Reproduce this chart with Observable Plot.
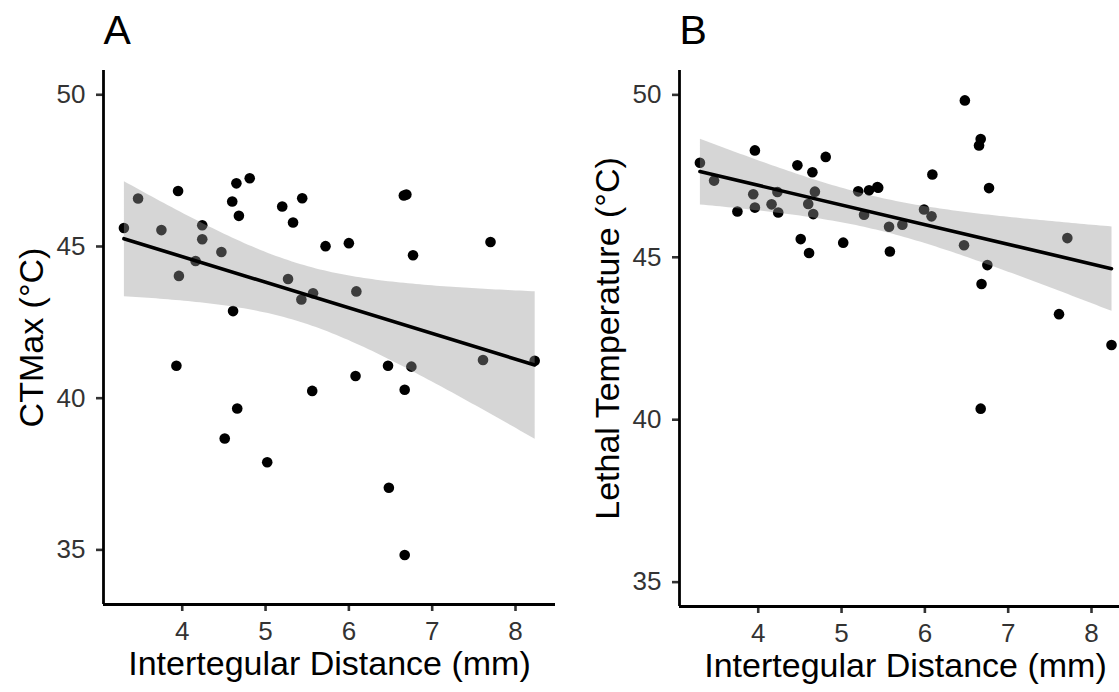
<!DOCTYPE html>
<html>
<head>
<meta charset="utf-8">
<script src="https://cdn.jsdelivr.net/npm/d3@7"></script>
<script src="https://cdn.jsdelivr.net/npm/@observablehq/plot@0.6"></script>
<style>
  html, body { margin: 0; padding: 0; background: #fff; overflow: hidden; }
  #wrap { position: relative; width: 1119px; height: 692px; overflow: hidden; font-family: "Liberation Sans", Arial, sans-serif; }
  .panel { position: absolute; top: 0; width: 560px; height: 692px; }
  #wrap svg { max-width: none !important; }
</style>
</head>
<body>
<div id="wrap">
  <div id="pA" class="panel" style="left:0px"></div>
  <div id="pB" class="panel" style="left:576px"></div>
</div>
<script>
// Panel A: CTMax vs intertegular distance
const xA = [3.30,3.47,3.75,3.95,3.96,3.93,4.16,4.24,4.24,4.47,4.51,4.60,4.61,4.65,4.66,4.68,4.81,5.02,5.20,5.27,5.33,5.43,5.44,5.56,5.57,5.72,6.00,6.08,6.09,6.47,6.48,6.66,6.69,6.67,6.67,6.75,6.77,7.61,7.70,8.23];
const yA = [45.61,46.58,45.54,46.83,44.03,41.07,44.52,45.70,45.24,44.82,38.67,46.48,42.87,47.08,39.66,46.01,47.25,37.89,46.32,43.93,45.79,43.25,46.59,40.24,43.46,45.01,45.11,40.73,43.52,41.07,37.05,46.68,46.71,40.28,34.83,41.04,44.71,41.26,45.15,41.23];
// Panel B: Lethal temperature vs intertegular distance
const xB = [3.30,3.47,3.75,3.96,3.94,3.96,4.16,4.23,4.24,4.47,4.65,4.68,4.60,4.66,4.81,4.51,4.61,5.02,5.20,5.33,5.43,5.44,5.27,5.57,5.73,5.58,5.99,6.08,6.09,6.48,6.67,6.65,6.77,6.47,6.75,6.68,7.71,7.61,8.24,6.67];
const yB = [47.91,47.36,46.41,48.29,46.94,46.53,46.63,47.01,46.38,47.83,47.62,47.02,46.64,46.33,48.09,45.56,45.13,45.45,47.03,47.06,47.16,47.14,46.31,45.94,46.00,45.18,46.47,46.26,47.55,49.83,48.64,48.44,47.13,45.37,44.76,44.18,45.59,43.25,42.30,40.34];

const xTicks = [4,5,6,7,8];
const yTicks = [35,40,45,50];
const xLabel = "Intertegular Distance (mm)";
const panels = [
  {id: "pA", tag: "A", yLabel: "CTMax (°C)", xs: xA, ys: yA, yDomain: [33.2, 50.8], mb: 88},
  {id: "pB", tag: "B", yLabel: "Lethal Temperature (°C)", xs: xB, ys: yB, yDomain: [34.25, 50.75], mb: 86}
];
const xDomain = [3.055, 8.48];
const FONT = "'Liberation Sans', Arial, sans-serif";
const fmt = d3.format("d");

for (const p of panels) {
  const data = p.xs.map((x, i) => ({x, y: p.ys[i]}));
  const chart = Plot.plot({
    width: 560,
    height: 692,
    marginLeft: 103,
    marginRight: 5,
    marginTop: 70,
    marginBottom: p.mb,
    style: {fontFamily: FONT, background: "white", overflow: "visible", maxWidth: "none"},
    x: {domain: xDomain},
    y: {domain: p.yDomain},
    marks: [
      Plot.dot(data, {x: "x", y: "y", r: 5.3, fill: "black", stroke: "none"}),
      Plot.linearRegressionY(data, {x: "x", y: "y", ci: 0.95, stroke: "black", strokeWidth: 3.6, fill: "#999999", fillOpacity: 0.4}),
      Plot.axisX({ticks: xTicks, tickFormat: fmt, tickSize: 7, tickPadding: 10, fontSize: 26, stroke: "#333", strokeWidth: 2.6, fill: "#333", label: null}),
      Plot.axisY({ticks: yTicks, tickFormat: fmt, tickSize: 7, tickPadding: 11, fontSize: 26, stroke: "#333", strokeWidth: 2.6, fill: "#333", label: null}),
      Plot.ruleX([xDomain[0]], {stroke: "black", strokeWidth: 2.8}),
      Plot.ruleY([p.yDomain[0]], {stroke: "black", strokeWidth: 2.8}),
      Plot.text([xLabel], {frameAnchor: "bottom", dy: 46, lineAnchor: "top", textAnchor: "middle", fontSize: 34, fill: "black", text: d => d}),
      Plot.text([p.yLabel], {frameAnchor: "left", dx: -85, rotate: -90, lineAnchor: "top", textAnchor: "middle", fontSize: 34, fill: "black", text: d => d}),
      Plot.text([p.tag], {frameAnchor: "top-left", dy: -56, lineAnchor: "top", textAnchor: "start", fontSize: 41, fill: "black", text: d => d})
    ]
  });
  document.getElementById(p.id).appendChild(chart);
}
</script>
</body>
</html>
